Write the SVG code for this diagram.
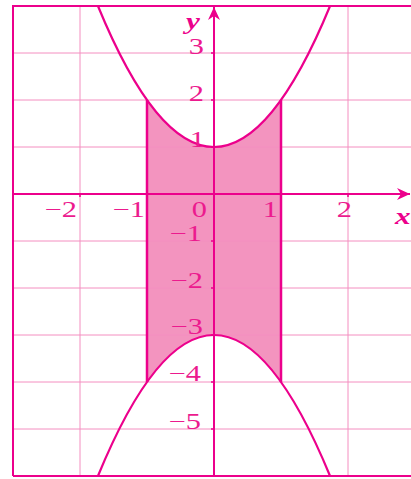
<svg xmlns="http://www.w3.org/2000/svg" width="411" height="479" viewBox="0 0 411 479">
<style>
.grid{stroke:#f48ec0;stroke-width:1;fill:none}
.frame{stroke:#ec008c;stroke-width:2;fill:none}
.axis{stroke:#ec008c;stroke-width:2;fill:none}
.curve{stroke:#ec008c;stroke-width:2.2;fill:none}
.bound{stroke:#ec008c;stroke-width:2.5;fill:none}
.tick{stroke:#ec008c;stroke-width:1.5}
.lbl{font-family:"Liberation Serif","Times New Roman",serif;font-size:22.5px;fill:#ec1a8e}
.var{font-family:"Liberation Serif","Times New Roman",serif;font-size:24px;font-weight:bold;font-style:italic;fill:#ec008c}
</style>
<defs>
<marker id="arr" markerWidth="14" markerHeight="14" refX="13" refY="7" orient="auto" markerUnits="userSpaceOnUse">
<path d="M0,1 L13,7 L0,13 L4,7 Z" fill="#ec008c"/>
</marker>
</defs>
<rect width="411" height="479" fill="#ffffff"/>
<g id="region">
<path d="M147,100 Q214,194 281,100 L281,382 Q214,288 147,382 Z" fill="#f394bf"/>
</g>
<g id="grid">
<path class="grid" d="M80,6V476 M348,6V476 M13,53H411 M13,100H411 M13,147H411 M13,241H411 M13,288H411 M13,335H411 M13,382H411 M13,429H411"/>
<path class="frame" d="M13,476V6H411 M13,476H411"/>
</g>
<g id="curves">
<path id="upper" class="curve" d="M97.95,6 Q214,288 330.05,6"/>
<path id="lower" class="curve" d="M97.95,476 Q214,194 330.05,476"/>
<path id="bounds" class="bound" d="M147,100V382 M281,100V382"/>
</g>
<g id="axes">
<line class="axis" x1="13" y1="194" x2="410" y2="194" marker-end="url(#arr)"/>
<line class="axis" x1="214" y1="476" x2="214" y2="7" marker-end="url(#arr)"/>
<path class="tick" d="M80,194v3 M147,194v3 M281,194v3 M348,194v3 M214,53h-3 M214,100h-3 M214,147h-3 M214,241h-3 M214,288h-3 M214,335h-3 M214,382h-3 M214,429h-3"/>
</g>
<g id="labels" class="lbl" text-anchor="end">
<text transform="translate(77,217) scale(1.35,1)">−2</text>
<text transform="translate(145,217) scale(1.35,1)">−1</text>
<text transform="translate(207,217) scale(1.35,1)">0</text>
<text transform="translate(278,217) scale(1.35,1)">1</text>
<text transform="translate(352,217) scale(1.35,1)">2</text>
<text transform="translate(204,54) scale(1.35,1)">3</text>
<text transform="translate(204,101) scale(1.35,1)">2</text>
<text transform="translate(205,147) scale(1.35,1)">1</text>
<text transform="translate(202,241) scale(1.35,1)">−1</text>
<text transform="translate(203,288) scale(1.35,1)">−2</text>
<text transform="translate(203,334) scale(1.35,1)">−3</text>
<text transform="translate(201,381) scale(1.35,1)">−4</text>
<text transform="translate(201,429) scale(1.35,1)">−5</text>
</g>
<g id="varlabels" class="var">
<text transform="translate(186,29) scale(1.3,1)">y</text>
<text transform="translate(395,224) scale(1.3,1)">x</text>
</g>
</svg>
